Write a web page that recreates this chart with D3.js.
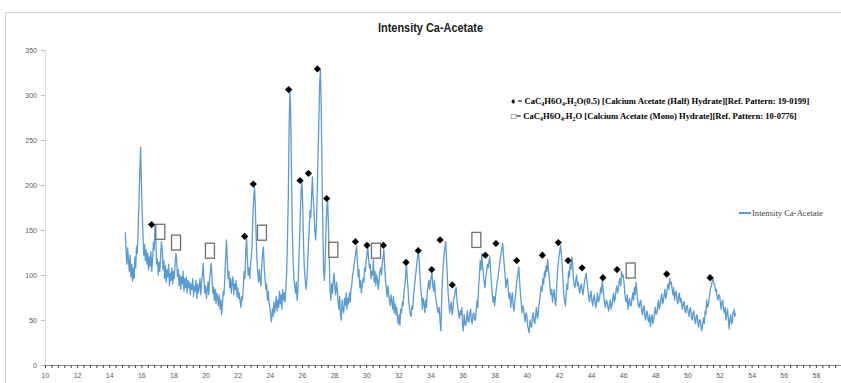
<!DOCTYPE html>
<html>
<head>
<meta charset="utf-8">
<script src="https://cdn.jsdelivr.net/npm/d3@7"></script>
<style>
  body { margin: 0; background: #fff; }
  svg { display: block; }
</style>
</head>
<body>
<script>
// intensity, one row per degree (2-theta step 0.05, from 15.00)
const intensity = [
  148, 126, 112, 130, 116, 104, 122, 98, 112, 93, 108, 96, 120, 108, 132, 124, 150, 178, 214, 242,
  206, 170, 146, 122, 134, 116, 128, 112, 124, 106, 120, 110, 126, 104, 118, 136, 128, 155, 138, 112,
  118, 100, 114, 104, 122, 137, 128, 106, 116, 96, 110, 92, 106, 98, 112, 88, 102, 94, 108, 90,
  104, 96, 112, 124, 116, 98, 106, 88, 100, 84, 98, 90, 104, 82, 96, 86, 98, 80, 94, 86,
  92, 78, 90, 84, 96, 76, 88, 82, 94, 74, 90, 80, 86, 96, 78, 92, 100, 113, 94, 80,
  88, 74, 84, 92, 78, 96, 104, 113, 96, 80, 86, 72, 84, 68, 80, 74, 66, 78, 62, 72,
  56, 68, 82, 78, 98, 120, 139, 116, 96, 104, 86, 96, 80, 92, 98, 78, 90, 84, 94, 76,
  86, 74, 80, 70, 64, 76, 72, 88, 104, 96, 126, 142, 118, 100, 108, 96, 112, 120, 134, 168,
  186, 197, 172, 140, 116, 102, 92, 106, 94, 88, 112, 124, 131, 108, 96, 84, 90, 72, 82, 70,
  64, 56, 48, 62, 54, 70, 58, 66, 76, 60, 72, 64, 82, 68, 78, 62, 84, 72, 80, 70,
  86, 104, 140, 188, 262, 306, 278, 210, 150, 116, 96, 88, 80, 92, 72, 84, 112, 140, 168, 196,
  204, 176, 132, 106, 96, 84, 92, 112, 132, 150, 172, 164, 188, 209, 186, 170, 150, 139, 156, 190,
  232, 268, 312, 328, 286, 212, 156, 104, 94, 118, 152, 176, 183, 154, 118, 84, 72, 90, 80, 94,
  102, 86, 78, 92, 84, 70, 62, 76, 56, 50, 72, 62, 58, 74, 66, 80, 62, 74, 68, 80,
  70, 84, 88, 100, 104, 112, 118, 126, 132, 114, 98, 106, 86, 94, 80, 88, 96, 92, 108, 104,
  116, 124, 130, 118, 108, 112, 96, 104, 100, 117, 92, 104, 88, 100, 96, 84, 92, 104, 108, 100,
  112, 120, 128, 110, 94, 86, 76, 88, 80, 72, 66, 78, 70, 62, 76, 58, 68, 56, 64, 52,
  46, 56, 44, 62, 58, 70, 66, 80, 88, 96, 114, 98, 86, 72, 62, 56, 54, 66, 62, 78,
  86, 96, 104, 112, 120, 126, 116, 96, 84, 76, 62, 74, 68, 58, 72, 64, 80, 88, 94, 84,
  92, 98, 102, 88, 82, 94, 80, 72, 66, 60, 58, 64, 48, 38, 72, 96, 112, 124, 130, 137,
  118, 100, 80, 68, 58, 66, 70, 56, 62, 74, 76, 84, 86, 72, 64, 58, 52, 60, 56, 64,
  44, 38, 56, 46, 44, 52, 60, 48, 48, 58, 62, 50, 46, 56, 58, 50, 50, 62, 72, 64,
  86, 98, 116, 106, 124, 110, 100, 92, 86, 98, 104, 112, 108, 116, 120, 104, 90, 80, 70, 76,
  66, 76, 84, 92, 96, 104, 112, 118, 124, 130, 135, 122, 110, 98, 86, 94, 96, 82, 74, 80,
  64, 74, 80, 66, 60, 70, 78, 88, 96, 102, 109, 94, 80, 70, 58, 66, 62, 54, 48, 58,
  56, 44, 40, 36, 50, 44, 42, 54, 58, 48, 46, 56, 64, 52, 54, 66, 72, 80, 88, 82,
  96, 90, 104, 98, 110, 104, 117, 106, 96, 86, 78, 84, 70, 78, 84, 72, 66, 82, 100, 112,
  120, 126, 133, 124, 112, 96, 80, 72, 66, 78, 90, 84, 104, 98, 112, 106, 120, 114, 96, 88,
  86, 94, 100, 88, 92, 84, 80, 88, 90, 82, 78, 86, 94, 98, 102, 92, 84, 76, 70, 78,
  82, 72, 66, 74, 78, 68, 64, 72, 80, 70, 72, 78, 86, 80, 94, 84, 76, 68, 64, 72,
  70, 64, 60, 68, 72, 62, 66, 74, 80, 70, 74, 82, 88, 80, 84, 92, 96, 88, 104, 98,
  100, 92, 80, 72, 70, 78, 62, 70, 74, 66, 66, 74, 80, 72, 86, 78, 92, 84, 72, 66,
  64, 70, 72, 60, 56, 64, 66, 54, 50, 58, 60, 50, 48, 56, 43, 50, 56, 46, 50, 58,
  64, 56, 58, 66, 72, 62, 66, 74, 79, 68, 70, 78, 84, 74, 78, 86, 90, 84, 96, 90,
  92, 84, 78, 86, 72, 80, 82, 72, 68, 76, 80, 70, 74, 66, 62, 70, 70, 60, 58, 66,
  66, 58, 54, 62, 64, 52, 50, 58, 60, 50, 46, 54, 56, 46, 42, 50, 50, 42, 38, 46,
  52, 46, 60, 56, 72, 64, 66, 74, 80, 86, 88, 94, 96, 90, 90, 82, 84, 76, 72, 78,
  78, 70, 62, 70, 72, 62, 58, 64, 50, 56, 62, 52, 40, 50, 56, 46, 48, 58, 62, 54,
  58
];
const twoTheta = intensity.map((d, i) => 15 + i * 0.05);

// half hydrate peaks (diamonds)
const halfX = [16.64, 22.43, 22.97, 25.17, 25.88, 26.40, 26.96, 27.54, 29.33, 30.05, 31.07, 32.48, 33.24, 34.08,
  34.60, 35.36, 37.42, 38.08, 39.37, 40.97, 41.96, 42.57, 43.44, 44.74, 45.62, 48.71, 51.41];
const halfY = [156, 143, 201, 306, 205, 213, 329, 185, 137, 133, 133, 114, 127, 106,
  139, 89, 122, 135, 116, 122, 136, 116, 108, 97, 106, 101, 97];

// mono hydrate peaks (boxes)
const monoX = [17.18, 18.16, 20.27, 23.51, 27.95, 30.61, 36.86, 46.47];
const monoY = [148, 136, 127, 147, 128, 127, 139, 105];

const yTicks = [0, 50, 100, 150, 200, 250, 300, 350];
const xTicks = d3.range(10, 59, 2);
const xMinorTicks = d3.range(10, 60.01, 0.4);

const width = 841;
const height = 383;
const marginLeft = 45;
const marginTop = 50;
const marginBottom = 18;

const axisFont = "'Liberation Sans', Arial, sans-serif";
const serifFont = "'Liberation Serif', 'DejaVu Serif', serif";

const x = d3.scaleLinear().domain([10, 60]).range([marginLeft, marginLeft + 50 * 16.06]);
const y = d3.scaleLinear().domain([0, 350]).range([height - marginBottom, marginTop]);

const svg = d3
  .select('body')
  .append('svg')
  .attr('width', width)
  .attr('height', height)
  .attr('viewBox', [0, 0, width, height]);

// chart area border (only top and left are visible)
svg
  .append('path')
  .attr('d', `M5.5,${height} V12.5 H${width}`)
  .attr('fill', 'none')
  .attr('stroke', '#d0d0d0')
  .attr('stroke-width', 1);

// title
svg
  .append('text')
  .attr('x', 378)
  .attr('y', 32)
  .attr('textLength', 105)
  .attr('lengthAdjust', 'spacingAndGlyphs')
  .style('font-family', axisFont)
  .style('font-weight', 'bold')
  .style('font-size', '12.5px')
  .style('fill', '#1a1a1a')
  .text('Intensity Ca-Acetate');

// y axis
svg
  .append('g')
  .attr('transform', `translate(${marginLeft},0)`)
  .call(d3.axisLeft(y).tickValues(yTicks).tickSize(4).tickPadding(4))
  .call((g) => g.select('.domain').attr('stroke', '#d9d9d9'))
  .call((g) => g.selectAll('.tick line').attr('stroke', '#bfbfbf'))
  .call((g) =>
    g
      .selectAll('.tick text')
      .style('font-family', axisFont)
      .style('font-size', '7px')
      .style('fill', '#595959')
  );

// x axis: minor ticks
svg
  .append('g')
  .attr('transform', `translate(0,${y(0)})`)
  .call(d3.axisBottom(x).tickValues(xMinorTicks).tickSize(3).tickFormat('').tickSizeOuter(0))
  .call((g) => g.select('.domain').attr('stroke', '#8c8c8c'))
  .call((g) => g.selectAll('.tick line').attr('stroke', '#404040'));

// x axis: labels
svg
  .append('g')
  .attr('transform', `translate(0,${y(0)})`)
  .call(d3.axisBottom(x).tickValues(xTicks).tickSize(0).tickPadding(8))
  .call((g) => g.select('.domain').remove())
  .call((g) =>
    g
      .selectAll('.tick text')
      .style('font-family', axisFont)
      .style('font-size', '7px')
      .style('fill', '#595959')
  );

// the scan
const line = d3
  .line()
  .x((d, i) => x(twoTheta[i]))
  .y((d) => y(d));

svg
  .append('path')
  .attr('fill', 'none')
  .attr('stroke', '#5b9bd5')
  .attr('stroke-width', 1.3)
  .attr('stroke-linejoin', 'round')
  .attr('d', line(intensity));

// peak markers
svg
  .append('g')
  .selectAll('path')
  .data(halfX)
  .join('path')
  .attr('transform', (d, i) => `translate(${x(d)},${y(halfY[i])}) rotate(45)`)
  .attr('d', d3.symbol(d3.symbolSquare, 26)())
  .attr('fill', '#000');

svg
  .append('g')
  .selectAll('rect')
  .data(monoX)
  .join('rect')
  .attr('x', (d) => x(d) - 4.5)
  .attr('y', (d, i) => y(monoY[i]) - 7.5)
  .attr('width', 9)
  .attr('height', 15)
  .attr('fill', '#fff')
  .attr('stroke', '#6e6e6e')
  .attr('stroke-width', 1.3);

// phase key
const key = svg
  .append('g')
  .style('font-family', serifFont)
  .style('font-weight', 'bold')
  .style('font-size', '8.6px')
  .style('fill', '#000');

const key1 = key.append('text').attr('x', 511).attr('y', 104);
key1.append('tspan').text('\u2666 = CaC');
key1.append('tspan').attr('dy', 2).style('font-size', '6px').text('4');
key1.append('tspan').attr('dy', -2).text('H6O');
key1.append('tspan').attr('dy', 2).style('font-size', '6px').text('4');
key1.append('tspan').attr('dy', -2).text('.H');
key1.append('tspan').attr('dy', 2).style('font-size', '6px').text('2');
key1.append('tspan').attr('dy', -2).text('O(0.5)  [Calcium Acetate (Half)  Hydrate][Ref.  Pattern: 19-0199]');

const key2 = key.append('text').attr('x', 511).attr('y', 119);
key2.append('tspan').style('font-weight', 'normal').text('\u25a1');
key2.append('tspan').text('= CaC');
key2.append('tspan').attr('dy', 2).style('font-size', '6px').text('4');
key2.append('tspan').attr('dy', -2).text('H6O');
key2.append('tspan').attr('dy', 2).style('font-size', '6px').text('4');
key2.append('tspan').attr('dy', -2).text('.H');
key2.append('tspan').attr('dy', 2).style('font-size', '6px').text('2');
key2.append('tspan').attr('dy', -2).text('O  [Calcium Acetate (Mono) Hydrate][Ref.  Pattern: 10-0776]');

// series legend
svg
  .append('line')
  .attr('x1', 739)
  .attr('x2', 751)
  .attr('y1', 213)
  .attr('y2', 213)
  .attr('stroke', '#5b9bd5')
  .attr('stroke-width', 2);
svg
  .append('text')
  .attr('x', 752)
  .attr('y', 216)
  .style('font-family', serifFont)
  .style('font-size', '8.6px')
  .style('fill', '#404040')
  .text('Intensity Ca-Acetate');
</script>
</body>
</html>
